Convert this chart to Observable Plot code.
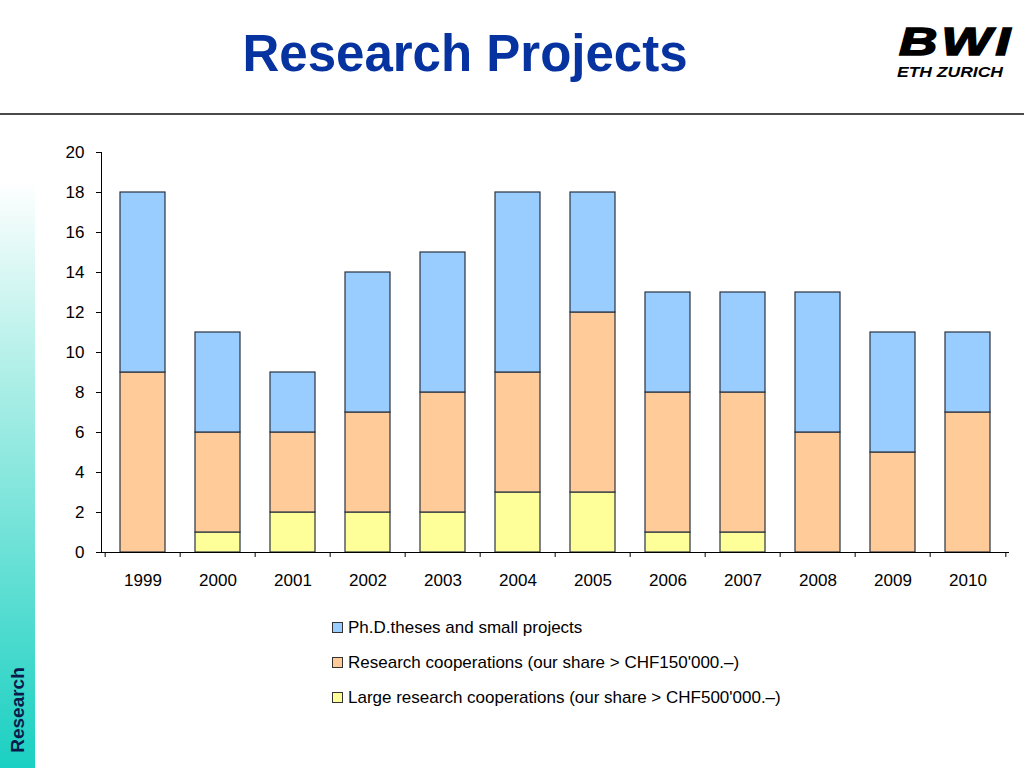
<!DOCTYPE html>
<html>
<head>
<meta charset="utf-8">
<script src="https://cdn.jsdelivr.net/npm/d3@7"></script>
<script src="https://cdn.jsdelivr.net/npm/@observablehq/plot@0.6"></script>
<style>
  html, body { margin: 0; padding: 0; background: #fff; }
  body { width: 1024px; height: 768px; position: relative; overflow: hidden; font-family: Arial, "Liberation Sans", sans-serif; }
  #title { position: absolute; left: 0; width: 930px; top: 24px; text-align: center; font-weight: bold; font-size: 51px; color: #0633a0; line-height: 60px; }
  #rule { position: absolute; left: 0; top: 113px; width: 1024px; height: 2px; background: #4a4a4a; }
  #logo1 { position: absolute; left: 899px; top: 22px; font-family: "Liberation Sans", Arial, sans-serif; font-weight: bold; font-style: italic; font-size: 39px; line-height: 39px; letter-spacing: 3px; color: #000; -webkit-text-stroke: 1.6px #000; transform: scaleX(1.36); transform-origin: left; white-space: nowrap; }
  #logo2 { position: absolute; left: 897px; top: 64.6px; font-family: "Liberation Sans", Arial, sans-serif; font-weight: bold; font-style: italic; font-size: 14px; line-height: 14px; color: #000; transform: scaleX(1.25); transform-origin: left; white-space: nowrap; }
  #side { position: absolute; left: 0; top: 180px; width: 35px; height: 588px; background: linear-gradient(to bottom, #ffffff 0%, #aaeee6 35%, #1ad0c2 100%); }
  #sidetext { position: absolute; left: 18px; top: 710px; transform: translate(-50%, -50%) rotate(-90deg); font-weight: bold; font-size: 19px; color: #0b1a4a; white-space: nowrap; }
  #chart { position: absolute; left: 0; top: 130px; }
  #legend { position: absolute; left: 332px; top: 610px; font-size: 17px; letter-spacing: 0px; color: #000; }
  .item { height: 35px; line-height: 24px; display: flex; align-items: center; }
  .sw { width: 9px; height: 9px; border: 1px solid #333; margin-right: 5px; flex: none; }
</style>
</head>
<body>
<div id="title">Research Projects</div>
<div id="logo1">BWI</div>
<div id="logo2">ETH ZURICH</div>
<div id="rule"></div>
<div id="side"></div>
<div id="sidetext">Research</div>
<div id="chart"></div>
<div id="legend"></div>
<script>
const years = ["1999","2000","2001","2002","2003","2004","2005","2006","2007","2008","2009","2010"];
const seriesNames = [
  "Large research cooperations (our share > CHF500'000.–)",
  "Research cooperations (our share > CHF150'000.–)",
  "Ph.D.theses and small projects"
];
const seriesColors = ["#ffff99", "#ffcc99", "#99ccff"];
const largeCoop = [0, 1, 2, 2, 2, 3, 3, 1, 1, 0, 0, 0];
const researchCoop = [9, 5, 4, 5, 6, 6, 9, 7, 7, 6, 5, 7];
const phdSmall = [9, 5, 3, 7, 7, 9, 6, 5, 5, 7, 6, 4];
const yTicks = [0, 2, 4, 6, 8, 10, 12, 14, 16, 18, 20];
const legendOrder = [2, 1, 0];

const seriesValues = [largeCoop, researchCoop, phdSmall];
const data = [];
years.forEach((yr, i) => {
  seriesValues.forEach((vals, s) => {
    data.push({year: yr, series: seriesNames[s], value: vals[i]});
  });
});

const W = 1024, H = 480, mL = 101, mR = 15, mT = 22, mB = 58;
const step = (W - mL - mR) / years.length;

const chart = Plot.plot({
  width: W, height: H,
  marginLeft: mL, marginRight: mR, marginTop: mT, marginBottom: mB,
  style: { fontFamily: "Arial, 'Liberation Sans', sans-serif", fontSize: "17px", color: "#000", background: "transparent" },
  x: { domain: years, paddingInner: 0.4, paddingOuter: 0.2, label: null },
  y: { domain: [0, 20], label: null },
  color: { domain: seriesNames, range: seriesColors },
  marks: [
    Plot.barY(data.filter(d => d.value > 0), {
      x: "year", y: "value", fill: "series",
      stroke: "#2b3340", strokeWidth: 1.2
    }),
    Plot.ruleY([0], { stroke: "#000", strokeWidth: 1 }),
    Plot.frame({ anchor: "left", stroke: "#000", strokeWidth: 1 }),
    Plot.axisY({ ticks: yTicks, tickSize: 5, tickPadding: 12, label: null, fontSize: 17 }),
    Plot.axisX({ tickSize: 0, tickPadding: 21, label: null, fontSize: 17 }),
    Plot.axisX({ tickSize: 5, tickFormat: () => "", label: null, dx: -step / 2 }),
    Plot.axisX({ ticks: [years[years.length - 1]], tickSize: 5, tickFormat: () => "", label: null, dx: step / 2 })
  ]
});
document.getElementById("chart").appendChild(chart);

const legend = document.getElementById("legend");
legendOrder.forEach(s => {
  const row = document.createElement("div");
  row.className = "item";
  const sw = document.createElement("span");
  sw.className = "sw";
  sw.style.background = seriesColors[s];
  const tx = document.createElement("span");
  tx.textContent = seriesNames[s];
  row.appendChild(sw);
  row.appendChild(tx);
  legend.appendChild(row);
});
</script>
</body>
</html>
